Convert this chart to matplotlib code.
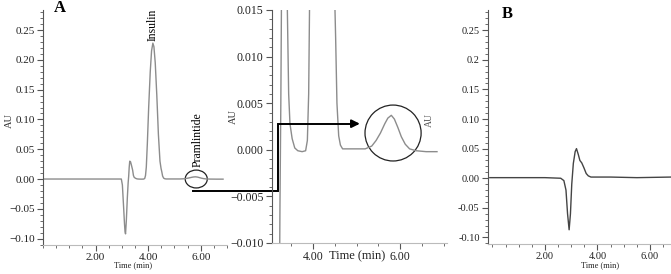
import matplotlib
matplotlib.use("Agg")
import matplotlib.pyplot as plt
from matplotlib.patches import Ellipse
from matplotlib.ticker import MultipleLocator, FixedLocator, FixedFormatter

plt.rcParams["font.family"] = ["Liberation Serif", "DejaVu Serif"]

# chromatogram A (insulin + pramlintide)
time_a = [0.0, 1.0, 2.0, 2.9, 2.98, 3.02, 3.07, 3.10, 3.12, 3.14, 3.17, 3.21, 3.24,
          3.26, 3.28, 3.30, 3.33, 3.36, 3.41, 3.44, 3.47, 3.52, 3.58, 3.65, 3.75,
          3.83, 3.87, 3.90, 3.93, 3.97, 4.02, 4.08, 4.13, 4.18, 4.22, 4.27, 4.33,
          4.39, 4.45, 4.49, 4.52, 4.55, 4.59, 4.63, 4.68, 5.0, 5.2, 5.35, 5.45,
          5.55, 5.65, 5.72, 5.80, 5.87, 5.95, 6.03, 6.12, 6.22, 6.37, 6.6, 6.85]
au_a = [0.0, 0.0, 0.0, 0.0, 0.0, -0.01, -0.05, -0.075, -0.088, -0.092, -0.07, -0.03, -0.006,
        0.005, 0.02, 0.03, 0.029, 0.024, 0.015, 0.006, 0.0028, 0.0012, 0.0002, -0.0001, -0.0002,
        -0.0001, 0.001, 0.006, 0.02, 0.06, 0.12, 0.18, 0.215, 0.228, 0.222, 0.195, 0.14,
        0.075, 0.03, 0.018, 0.012, 0.005, 0.0015, 0.0005, 0.0001, 0.0001, 0.0001, 0.0004, 0.0010,
        0.0018, 0.0028, 0.0034, 0.0037, 0.0033, 0.0024, 0.0014, 0.0006, 0.0001, -0.0001, -0.0002, -0.0002]

# chromatogram B (blank)
time_b = [-0.1, 1.0, 2.0, 2.6, 2.72, 2.80, 2.86, 2.92, 2.97, 3.02, 3.08, 3.15, 3.20,
          3.27, 3.33, 3.40, 3.48, 3.57, 3.65, 3.75, 4.5, 5.5, 6.8]
au_b = [0.001, 0.001, 0.001, 0.0, -0.004, -0.02, -0.06, -0.087, -0.06, -0.01, 0.025, 0.045, 0.05,
        0.04, 0.03, 0.026, 0.018, 0.008, 0.004, 0.002, 0.002, 0.001, 0.002]

W, H = 671, 274


def box(left, top, right, bottom):
    return [left / W, 1 - bottom / H, (right - left) / W, (bottom - top) / H]


def style(ax, fs):
    for s in ("top", "right"):
        ax.spines[s].set_visible(False)
    ax.spines["left"].set_color("#555555")
    ax.spines["bottom"].set_color("#bbbbbb")
    ax.tick_params(which="both", direction="out", colors="#555555", labelcolor="#222222",
                   labelsize=fs, pad=2)
    ax.tick_params(which="major", length=4, width=0.8)
    ax.tick_params(which="minor", length=2.5, width=0.6)
    ax.xaxis.set_minor_locator(MultipleLocator(0.5))


fig = plt.figure(figsize=(W / 100, H / 100), dpi=100)

# panel A
ax_a = fig.add_axes(box(43, 10, 227, 245))
ax_a.plot(time_a, au_a, color="#8c8c8c", lw=1.0)
ax_a.set_xlim(0, 7.0)
ax_a.set_ylim(-0.1107, 0.2836)
style(ax_a, 8)
ax_a.yaxis.set_major_locator(MultipleLocator(0.05))
ax_a.yaxis.set_minor_locator(MultipleLocator(0.01))
ax_a.yaxis.set_major_formatter("{x:.2f}")
ax_a.xaxis.set_major_locator(FixedLocator([2, 4, 6]))
ax_a.xaxis.set_major_formatter("{x:.2f}")
ax_a.add_patch(Ellipse((5.83, 0.0), 0.84, 0.030, fill=False, ec="#222222", lw=0.9))
ax_a.text(4.18, 0.232, "Insulin", rotation=90, ha="center", va="bottom", fontsize=8.5)
ax_a.text(5.87, 0.02, "Pramlintide", rotation=90, ha="center", va="bottom", fontsize=8.5)
fig.text(5 / W, 1 - 120 / H, "AU", rotation=90, ha="left", va="center", fontsize=7.5, color="#333333")
fig.text(133 / W, 1 - 265 / H, "Time (min)", ha="center", va="center", fontsize=6, color="#222222")
fig.text(60 / W, 1 - 8 / H, "A", ha="center", va="center", fontsize=12, fontweight="bold")

# middle zoom panel
ax_z = fig.add_axes(box(272, 10, 447, 243))
ax_z.plot(time_a, au_a, color="#8c8c8c", lw=1.0)
ax_z.set_xlim(3.057, 7.08)
ax_z.set_ylim(-0.010, 0.015)
style(ax_z, 8.5)
ax_z.yaxis.set_major_locator(MultipleLocator(0.005))
ax_z.yaxis.set_minor_locator(MultipleLocator(0.001))
ax_z.yaxis.set_major_formatter("{x:.3f}")
ax_z.xaxis.set_major_locator(FixedLocator([4, 6]))
ax_z.xaxis.set_major_formatter("{x:.2f}")
ax_z.add_patch(Ellipse((5.84, 0.0018), 1.29, 0.0060, fill=False, ec="#222222", lw=0.9))
fig.text(233 / W, 1 - 117 / H, "AU", rotation=90, ha="center", va="center", fontsize=7.5, color="#333333")
fig.text(357 / W, 1 - 256 / H, "Time (min)", ha="center", va="center", fontsize=9, color="#222222")

# connector from the A ellipse to the zoom, then arrow to the circle
start = ax_z.transData.inverted().transform(ax_a.transData.transform((5.71, -0.02)))
ax_z.plot([start[0], 3.19, 3.19, 5.0], [start[1], start[1], 0.0028, 0.0028],
          color="black", lw=1.4, clip_on=False, solid_joinstyle="miter")
ax_z.annotate("", xy=(5.14, 0.0028), xytext=(4.9, 0.0028),
              arrowprops=dict(arrowstyle="-|>", color="black", lw=1.4, mutation_scale=12))

# panel B
ax_b = fig.add_axes(box(488, 10, 671, 244))
ax_b.plot(time_b, au_b, color="#444444", lw=1.0)
ax_b.set_xlim(-0.17, 6.8)
ax_b.set_ylim(-0.111, 0.284)
style(ax_b, 7.5)
b_ticks = [-0.10, -0.05, 0.0, 0.05, 0.10, 0.15, 0.2, 0.25]
b_labels = ["-0.10", "-0.05", "0.00", "0.05", "0.10", "0.15", "0.2", "0.25"]
ax_b.yaxis.set_major_locator(FixedLocator(b_ticks))
ax_b.yaxis.set_major_formatter(FixedFormatter(b_labels))
ax_b.yaxis.set_minor_locator(MultipleLocator(0.01))
ax_b.xaxis.set_major_locator(FixedLocator([2, 4, 6]))
ax_b.xaxis.set_major_formatter("{x:.2f}")
fig.text(429 / W, 1 - 120 / H, "AU", rotation=90, ha="center", va="center", fontsize=7, color="#555555")
fig.text(600 / W, 1 - 265 / H, "Time (min)", ha="center", va="center", fontsize=6, color="#222222")
fig.text(507 / W, 1 - 14 / H, "B", ha="center", va="center", fontsize=12, fontweight="bold")

fig.savefig("out.png", dpi=100)
